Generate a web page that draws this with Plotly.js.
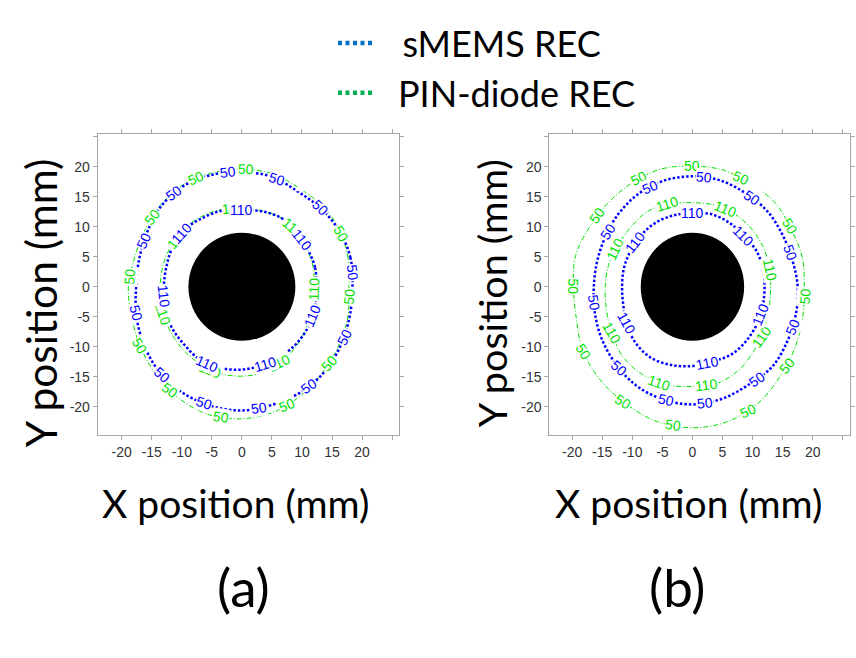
<!DOCTYPE html>
<html>
<head>
<meta charset="utf-8">
<script src="https://cdn.plot.ly/plotly-3.0.1.min.js"></script>
<style>html,body{margin:0;padding:0;background:#fff}</style>
</head>
<body>
<div id="chart" style="width:856px;height:658px"></div>
<script>
// contour radius (mm) every 15 deg, counter-clockwise from +x
var angles = [0, 15, 30, 45, 60, 75, 90, 105, 120, 135, 150, 165,
              180, 195, 210, 225, 240, 255, 270, 285, 300, 315, 330, 345];

// (a)
var a_mems_50  = [18.4, 18.7, 18.7, 18.5, 18.4, 19.0, 19.1, 19.3, 19.4, 19.0, 18.2, 17.7,
                  17.6, 18.2, 18.9, 19.7, 20.2, 20.5, 20.6, 20.3, 20.1, 19.7, 19.1, 18.6];
var a_pin_50   = [17.8, 18.3, 18.8, 19.0, 19.0, 19.5, 19.6, 19.6, 19.6, 19.2, 18.7, 18.5,
                  18.9, 19.0, 19.6, 20.4, 21.3, 22.0, 22.0, 21.5, 20.5, 19.5, 18.8, 18.3];
var a_mems_110 = [12.4, 12.6, 12.6, 12.9, 13.2, 13.0, 12.8, 13.1, 13.2, 13.5, 13.3, 13.0,
                  13.0, 13.3, 13.5, 13.6, 14.0, 14.0, 13.8, 13.5, 13.3, 13.1, 12.9, 12.6];
var a_pin_110  = [12.0, 12.3, 12.5, 13.0, 13.2, 13.1, 13.1, 13.3, 13.5, 13.6, 13.6, 13.6,
                  13.6, 13.8, 14.0, 14.3, 14.6, 14.9, 14.9, 14.7, 14.0, 13.3, 12.6, 12.2];

// (b)
var b_mems_50  = [17.5, 17.2, 17.3, 17.7, 17.9, 18.3, 18.4, 18.3, 17.9, 17.3, 16.7, 16.4,
                  16.4, 16.8, 17.4, 18.1, 18.9, 19.4, 19.6, 19.3, 18.8, 18.8, 18.2, 17.8];
var b_pin_50   = [18.6, 18.9, 19.0, 19.6, 19.7, 20.1, 20.1, 20.3, 20.0, 19.8, 19.8, 20.1,
                  19.8, 20.0, 21.1, 21.8, 22.4, 23.2, 23.5, 23.2, 22.2, 20.8, 19.8, 19.0];
var b_mems_110 = [12.0, 12.1, 12.2, 12.0, 12.3, 12.5, 12.3, 12.3, 12.3, 12.1, 11.9, 11.8,
                  11.7, 11.9, 12.6, 13.3, 13.7, 13.5, 13.2, 12.9, 13.0, 12.7, 12.4, 12.1];
var b_pin_110  = [13.0, 13.2, 13.5, 13.8, 14.0, 14.1, 14.0, 14.3, 14.6, 14.3, 14.2, 14.4,
                  14.5, 14.8, 15.5, 16.4, 16.8, 16.9, 16.6, 16.6, 15.8, 14.7, 13.8, 13.2];

// where the contour labels sit (deg)
var a_mems_50_lbl  = [97, 72, 45, 7, 334, 304, 278, 252, 228, 194, 155, 126];
var a_pin_50_lbl   = [88, 113, 142, 175, 210, 235, 261, 291, 319, 355, 28];
var a_mems_110_lbl = [90, 38, 338, 287, 246, 187, 138];
var a_pin_110_lbl  = [96, 49, 358, 296, 249, 199, 143];
var b_mems_50_lbl  = [84, 113, 147, 189, 228, 257, 276, 305, 338, 19, 56];
var b_pin_50_lbl   = [90, 116, 143, 180, 211, 239, 262, 294, 320, 355, 32, 66];
var b_mems_110_lbl = [90, 45, 338, 281, 209, 142];
var b_pin_110_lbl  = [107, 67, 12, 324, 278, 251, 210, 154];

// black disk, half widths [x, y] in mm
var disk_a = [8.9, 9.0];
var disk_b = [8.6, 9.0];

var BLUE = '#0000ff', GREEN = '#00e000';

function ring(r) {
    var xs = [], ys = [];
    for (var i = 0; i <= angles.length; i++) {
        var k = i % angles.length;
        var t = angles[k] * Math.PI / 180;
        xs.push(r[k] * Math.cos(t));
        ys.push(r[k] * Math.sin(t));
    }
    return {x: xs, y: ys};
}

function radiusAt(r, deg) {
    var step = 360 / angles.length;
    var i = Math.floor(deg / step) % angles.length;
    var f = (deg - angles[i]) / step;
    return r[i] + (r[(i + 1) % angles.length] - r[i]) * f;
}

function contour(r, color, dash, width, xa, ya) {
    var p = ring(r);
    return {
        x: p.x, y: p.y, xaxis: xa, yaxis: ya,
        mode: 'lines', hoverinfo: 'skip', showlegend: false,
        line: {color: color, dash: dash, width: width, shape: 'spline', smoothing: 1}
    };
}

function labels(r, degs, text, color, xa, ya) {
    return degs.map(function (d) {
        var t = d * Math.PI / 180, rr = radiusAt(r, d);
        var ang = -(d + 90);
        while (ang <= -90) ang += 180;
        while (ang > 90) ang -= 180;
        return {
            x: rr * Math.cos(t), y: rr * Math.sin(t), xref: xa, yref: ya,
            text: text, showarrow: false, textangle: ang,
            font: {family: 'Liberation Sans, Arial', size: 14, color: color},
            bgcolor: 'white', borderpad: 0
        };
    });
}

var DOT = '2.5px,2px', DASHDOT = '5px,2px,1px,2px';

var data = [
    contour(a_pin_50, GREEN, DASHDOT, 1, 'x', 'y'),
    contour(a_pin_110, GREEN, DASHDOT, 1, 'x', 'y'),
    contour(a_mems_50, BLUE, DOT, 2.5, 'x', 'y'),
    contour(a_mems_110, BLUE, DOT, 2.5, 'x', 'y'),
    contour(b_pin_50, GREEN, DASHDOT, 1, 'x2', 'y2'),
    contour(b_pin_110, GREEN, DASHDOT, 1, 'x2', 'y2'),
    contour(b_mems_50, BLUE, DOT, 2.5, 'x2', 'y2'),
    contour(b_mems_110, BLUE, DOT, 2.5, 'x2', 'y2'),
    {x: [null], y: [null], mode: 'lines', name: '\u2002\u2009sMEMS REC',
     line: {color: '#0070c0', width: 4.5, dash: '4px,3.5px'}},
    {x: [null], y: [null], mode: 'lines', name: '\u2002PIN-diode REC',
     line: {color: '#00b050', width: 4.5, dash: '4px,3.5px'}}
];

var ticks = [-20, -15, -10, -5, 0, 5, 10, 15, 20, 25];
var tickText = ['-20', '-15', '-10', '-5', '0', '5', '10', '15', '20', ''];

function axis(extra) {
    var a = {
        showline: true, linecolor: '#a6a6a6', linewidth: 1, mirror: 'ticks',
        ticks: 'outside', ticklen: 4, tickcolor: '#a6a6a6',
        showgrid: false, zeroline: false, fixedrange: true,
        tickvals: ticks, ticktext: tickText,
        tickfont: {family: 'Liberation Sans, Arial', size: 14, color: '#333'}
    };
    for (var k in extra) a[k] = extra[k];
    return a;
}

function title(text, size, extra) {
    var a = {text: text, showarrow: false, xanchor: 'center', yanchor: 'middle',
             font: {family: 'Lato', size: size, color: '#000'}};
    for (var k in extra) a[k] = extra[k];
    return a;
}

var annotations = []
    .concat(labels(a_pin_50, a_pin_50_lbl, '50', GREEN, 'x', 'y'))
    .concat(labels(a_pin_110, a_pin_110_lbl, '110', GREEN, 'x', 'y'))
    .concat(labels(a_mems_50, a_mems_50_lbl, '50', BLUE, 'x', 'y'))
    .concat(labels(a_mems_110, a_mems_110_lbl, '110', BLUE, 'x', 'y'))
    .concat(labels(b_pin_50, b_pin_50_lbl, '50', GREEN, 'x2', 'y2'))
    .concat(labels(b_pin_110, b_pin_110_lbl, '110', GREEN, 'x2', 'y2'))
    .concat(labels(b_mems_50, b_mems_50_lbl, '50', BLUE, 'x2', 'y2'))
    .concat(labels(b_mems_110, b_mems_110_lbl, '110', BLUE, 'x2', 'y2'));

annotations.push(
    title('X position (mm)', 39, {xref: 'x', x: -1, yref: 'paper', y: 0.2356}),
    title('X position (mm)', 39, {xref: 'x2', x: -0.7, yref: 'paper', y: 0.2356}),
    title('Y position (mm)', 42.5, {xref: 'paper', x: 0.0467, yref: 'y', y: -2.6, textangle: -90}),
    title('Y position (mm)', 39.5, {xref: 'paper', x: 0.5736, yref: 'y2', y: -1.1, textangle: -90}),
    title('(a)', 53, {xref: 'paper', x: 0.284, yref: 'paper', y: 0.108}),
    title('(b)', 53, {xref: 'paper', x: 0.791, yref: 'paper', y: 0.108})
);

var shapes = [
    {type: 'circle', xref: 'x', yref: 'y', x0: -disk_a[0], x1: disk_a[0], y0: -disk_a[1], y1: disk_a[1],
     fillcolor: '#000', line: {width: 0}},
    {type: 'circle', xref: 'x2', yref: 'y2', x0: -disk_b[0], x1: disk_b[0], y0: -disk_b[1], y1: disk_b[1],
     fillcolor: '#000', line: {width: 0}},
    // white patch left over from the original legend box
    {type: 'rect', xref: 'x', yref: 'y', x0: 9.2, x1: 25.95, y0: 15.9, y1: 25.25,
     fillcolor: '#fff', line: {width: 0}, layer: 'above'},
    {type: 'rect', xref: 'x2', yref: 'y2', x0: 9.2, x1: 26.05, y0: 15.9, y1: 25.25,
     fillcolor: '#fff', line: {width: 0}, layer: 'above'}
];

var layout = {
    width: 856, height: 658,
    margin: {l: 0, r: 0, t: 0, b: 0, pad: 0},
    paper_bgcolor: '#fff', plot_bgcolor: '#fff',
    xaxis: axis({domain: [0.1141, 0.4658], range: [-24, 26.1], anchor: 'y'}),
    yaxis: axis({domain: [0.3389, 0.7959], range: [-24.7, 25.4], anchor: 'x'}),
    xaxis2: axis({domain: [0.6417, 0.9930], range: [-23.8, 26.2], anchor: 'y2'}),
    yaxis2: axis({domain: [0.3389, 0.7959], range: [-24.7, 25.4], anchor: 'x2'}),
    legend: {x: 0.389, y: 0.980, xanchor: 'left', yanchor: 'top', itemwidth: 37,
             font: {family: 'Lato', size: 36, color: '#000'}, bgcolor: 'rgba(0,0,0,0)'},
    shapes: shapes,
    annotations: annotations
};

Plotly.newPlot('chart', data, layout, {displayModeBar: false, staticPlot: true});
</script>
</body>
</html>
